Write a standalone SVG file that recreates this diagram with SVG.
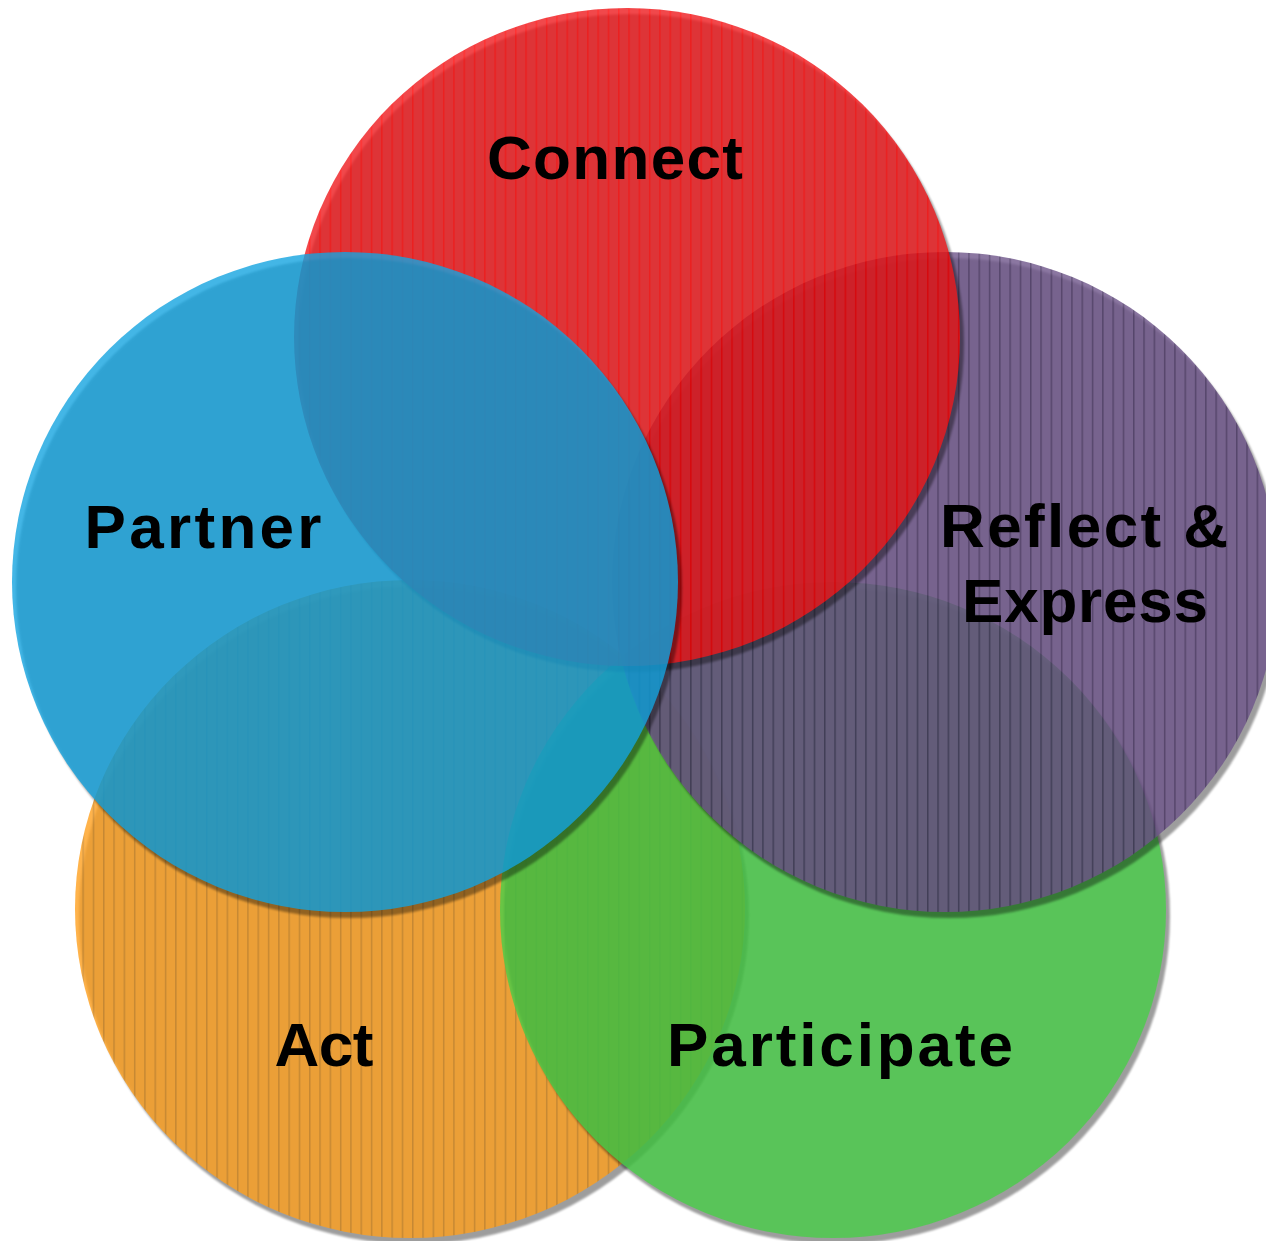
<svg xmlns="http://www.w3.org/2000/svg" width="1266" height="1241" viewBox="0 0 1266 1241">
  <defs>
    <filter id="soft" x="-5%" y="-5%" width="110%" height="110%">
      <feGaussianBlur stdDeviation="1.2"/>
    </filter>
    <pattern id="pRed" width="10.3" height="10" patternUnits="userSpaceOnUse">
      <rect width="10.3" height="10" fill="#ee1a1e"/>
      <rect x="0" width="1.5" height="10" fill="#ff0000"/>
    </pattern>
    <pattern id="pPurple" width="10.3" height="10" patternUnits="userSpaceOnUse">
      <rect width="10.3" height="10" fill="#6e558a"/>
      <rect x="0" width="1.5" height="10" fill="#44305f"/>
    </pattern>
    <pattern id="pOrange" width="10.3" height="10" patternUnits="userSpaceOnUse">
      <rect width="10.3" height="10" fill="#ffa01e"/>
      <rect x="0" width="1.5" height="10" fill="#cf8218"/>
    </pattern>
  </defs>
  <style>
    .shadow { fill: #000; opacity: 0.38; filter: url(#soft); }
    .body { opacity: 0.8; }
    .label { font-family: "Liberation Sans", Arial, sans-serif; font-weight: bold; font-size: 62px; fill: #000; text-anchor: middle; }
  </style>
  <rect width="1266" height="1241" fill="#ffffff"/>

  <g id="act">
    <ellipse class="shadow" cx="414" cy="915" rx="335" ry="329"/>
    <ellipse class="body" cx="410" cy="909" rx="335" ry="329" fill="url(#pOrange)"/>
    <text class="label" x="324" y="1066" textLength="99" lengthAdjust="spacing">Act</text>
  </g>

  <g id="participate">
    <ellipse class="shadow" cx="837" cy="916" rx="333" ry="328"/>
    <ellipse class="body" cx="833" cy="910" rx="333" ry="328" fill="#48ce49"/>
    <text class="label" x="840" y="1066" textLength="346" lengthAdjust="spacing">Participate</text>
  </g>

  <g id="reflect-express">
    <ellipse class="shadow" cx="949" cy="588" rx="333" ry="330"/>
    <ellipse class="body" cx="945" cy="582" rx="333" ry="330" fill="url(#pPurple)"/>
    <text class="label" x="1084" y="547" textLength="288" lengthAdjust="spacing">Reflect &amp;</text>
    <text class="label" x="1085" y="622" textLength="246" lengthAdjust="spacing">Express</text>
  </g>

  <g id="connect">
    <ellipse class="shadow" cx="631" cy="343" rx="333" ry="329"/>
    <ellipse class="body" cx="627" cy="337" rx="333" ry="329" fill="url(#pRed)"/>
    <text class="label" x="615" y="179" textLength="256" lengthAdjust="spacing">Connect</text>
  </g>

  <g id="partner">
    <ellipse class="shadow" cx="349" cy="588" rx="333" ry="330"/>
    <ellipse class="body" cx="345" cy="582" rx="333" ry="330" fill="#14a4e0"/>
    <text class="label" x="203" y="548" textLength="237" lengthAdjust="spacing">Partner</text>
  </g>
</svg>
